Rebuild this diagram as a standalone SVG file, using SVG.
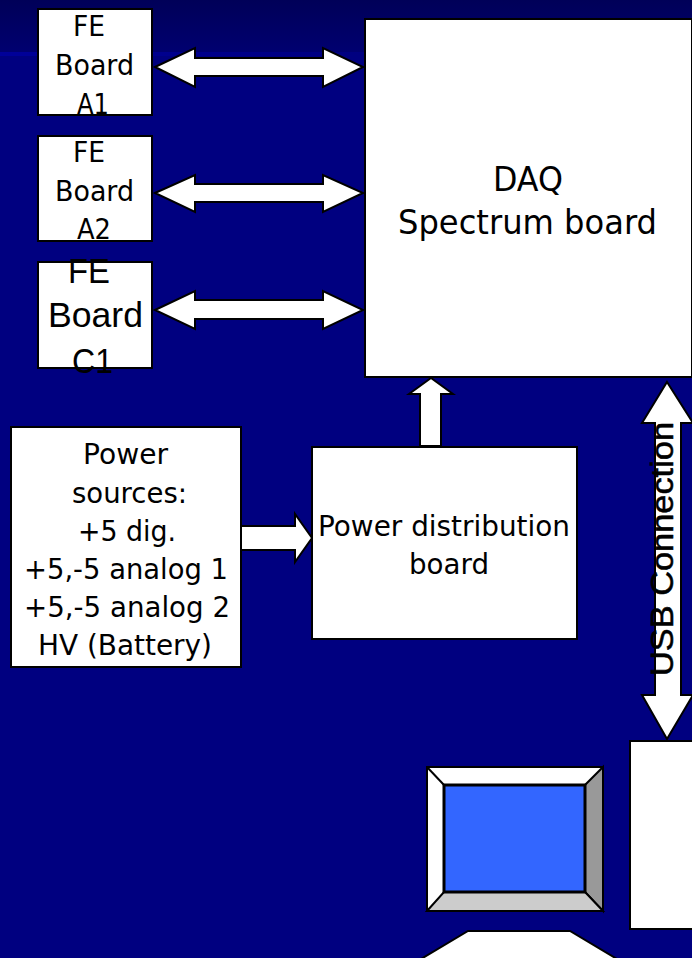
<svg xmlns="http://www.w3.org/2000/svg" width="692" height="958" viewBox="0 0 692 958">
<defs>
<linearGradient id="top" x1="0" y1="0" x2="0" y2="1"><stop offset="0" stop-color="#000058"/><stop offset="1" stop-color="#000070"/></linearGradient>
<linearGradient id="band" x1="0" y1="0" x2="1" y2="0"><stop offset="0" stop-color="#000099"/><stop offset="1" stop-color="#000080"/></linearGradient>
</defs>
<style>
.b{fill:#fff;stroke:#000;stroke-width:2}
.a{fill:#fff;stroke:#000;stroke-width:2;stroke-linejoin:miter}
.t{font-family:"DejaVu Sans",sans-serif;font-size:28px;fill:#000;lengthAdjust:spacingAndGlyphs}
.l{font-family:"Liberation Sans",Arial,sans-serif;fill:#000}
.d{font-size:34px}
</style>
<rect width="692" height="958" fill="#000080"/>
<rect width="692" height="52" fill="url(#top)"/>
<rect y="52" width="360" height="4" fill="url(#band)"/>
<g id="connectors">
<path class="a" d="M155 67L195 48V58H323V48L363 67L323 87V76H195V87Z"/>
<path class="a" d="M155 193L195 175V184H323V175L363 193L323 212V202H195V212Z"/>
<path class="a" d="M155 310L195 291V300H323V291L363 310L323 329V319H195V329Z"/>
<path class="a" d="M241 526H295V514L312 538L295 562V550H241Z"/>
<path class="a" d="M420 446V394H409L431 378L453 394H441V446Z"/>
<path class="a" d="M667 382L693 423H681V695H693L667 739L642 695H655V423H642Z"/>
</g>
<g id="fe-a1"><rect class="b" x="38" y="9" width="114" height="106"/>
<text class="t" x="73" y="36" textLength="32" lengthAdjust="spacingAndGlyphs">FE</text>
<text class="t" x="55" y="75" textLength="79" lengthAdjust="spacingAndGlyphs">Board</text>
<text class="t" x="77" y="114" textLength="32" lengthAdjust="spacingAndGlyphs">A1</text></g>
<g id="fe-a2"><rect class="b" x="38" y="136" width="114" height="105"/>
<text class="t" x="73" y="162" textLength="32" lengthAdjust="spacingAndGlyphs">FE</text>
<text class="t" x="55" y="201" textLength="79" lengthAdjust="spacingAndGlyphs">Board</text>
<text class="t" x="77" y="239" textLength="34" lengthAdjust="spacingAndGlyphs">A2</text></g>
<g id="fe-c1"><rect class="b" x="38" y="262" width="114" height="106"/>
<text class="l" font-size="35" x="68" y="283" textLength="42" lengthAdjust="spacingAndGlyphs">FE</text>
<text class="l" font-size="35" x="48" y="327" textLength="95" lengthAdjust="spacingAndGlyphs">Board</text>
<text class="l" font-size="35" x="72" y="373" textLength="41" lengthAdjust="spacingAndGlyphs">C1</text></g>
<g id="daq"><rect class="b" x="365" y="19" width="327" height="358"/>
<text class="t d" x="493" y="190.500" textLength="70" lengthAdjust="spacingAndGlyphs">DAQ</text>
<text class="t d" x="398" y="234" textLength="259" lengthAdjust="spacingAndGlyphs">Spectrum board</text></g>
<g id="power-sources"><rect class="b" x="11" y="427" width="230" height="240"/>
<text class="t" x="83" y="464" textLength="85" lengthAdjust="spacingAndGlyphs">Power</text>
<text class="t" x="72" y="503" textLength="115" lengthAdjust="spacingAndGlyphs">sources:</text>
<text class="t" x="78" y="541" textLength="98" lengthAdjust="spacingAndGlyphs">+5 dig.</text>
<text class="t" x="24" y="579" textLength="204" lengthAdjust="spacingAndGlyphs">+5,-5 analog 1</text>
<text class="t" x="24" y="617" textLength="206" lengthAdjust="spacingAndGlyphs">+5,-5 analog 2</text>
<text class="t" x="38" y="655" textLength="174" lengthAdjust="spacingAndGlyphs">HV (Battery)</text></g>
<g id="power-dist"><rect class="b" x="312" y="447" width="265" height="192"/>
<text class="t" x="318" y="536" textLength="252" lengthAdjust="spacingAndGlyphs">Power distribution</text>
<text class="t" x="409" y="574" textLength="80" lengthAdjust="spacingAndGlyphs">board</text></g>
<text class="l" font-size="31" stroke="#000" stroke-width="0.5" transform="translate(673,676) rotate(-90)" textLength="254" lengthAdjust="spacingAndGlyphs" x="0" y="0">USB Connection</text>
<g id="usb-box"><rect class="b" x="630" y="741" width="70" height="188"/></g>
<g id="monitor">
<rect x="427" y="767" width="176" height="144" fill="#fff" stroke="#000" stroke-width="2"/>
<path d="M603 767V911L585 892V785Z" fill="#999" stroke="#000" stroke-width="2"/>
<path d="M427 911L444 892H585L603 911Z" fill="#ccc" stroke="#000" stroke-width="2"/>
<path d="M427 767L444 785" fill="none" stroke="#000" stroke-width="2"/>
<rect x="444" y="785" width="141" height="107" fill="#36f" stroke="#000" stroke-width="3"/>
</g>
<g id="base"><path d="M421 959L468 931H570L617 959Z" fill="#fff" stroke="#000" stroke-width="2"/></g>
</svg>
